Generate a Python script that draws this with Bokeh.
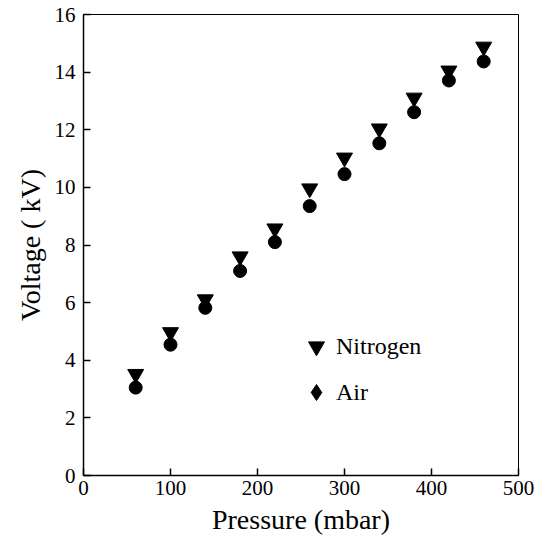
from bokeh.plotting import figure
from bokeh.models import Range1d, FixedTicker, Legend, LegendItem
from bokeh.embed import file_html
from bokeh.resources import INLINE

# Data
pressure = [60, 100, 140, 180, 220, 260, 300, 340, 380, 420, 460]
nitrogen = [3.52, 4.97, 6.11, 7.60, 8.57, 9.96, 11.03, 12.04, 13.11, 14.05, 14.88]
air = [3.05, 4.54, 5.82, 7.10, 8.10, 9.35, 10.46, 11.53, 12.61, 13.71, 14.37]
x_ticks = [0, 100, 200, 300, 400, 500]
y_ticks = [0, 2, 4, 6, 8, 10, 12, 14, 16]

FONT = "Liberation Serif"

p = figure(width=534, height=537,
           x_range=Range1d(0, 500), y_range=Range1d(0, 16),
           output_backend="svg", toolbar_location=None,
           min_border_left=83, min_border_right=16,
           min_border_top=14, min_border_bottom=62,
           x_axis_label="Pressure (mbar)", y_axis_label="Voltage ( kV)")

p.grid.visible = False
p.outline_line_color = "black"
p.outline_line_width = 1
p.background_fill_color = "white"
p.border_fill_color = "white"

p.xaxis.ticker = FixedTicker(ticks=x_ticks)
p.yaxis.ticker = FixedTicker(ticks=y_ticks)

for ax in (p.xaxis, p.yaxis):
    ax.axis_line_color = "black"
    ax.axis_line_width = 1.5
    ax.major_tick_line_color = "black"
    ax.major_tick_line_width = 1.5
    ax.major_tick_in = 7
    ax.major_tick_out = 0
    ax.minor_tick_line_color = None
    ax.major_label_text_font = FONT
    ax.major_label_text_font_size = "21px"
    ax.major_label_text_color = "black"
    ax.axis_label_text_font = FONT
    ax.axis_label_text_font_size = "28px"
    ax.axis_label_text_font_style = "normal"
    ax.axis_label_text_color = "black"

p.xaxis.major_label_standoff = 5
p.xaxis.axis_label_standoff = 6
p.yaxis.major_label_standoff = 8
p.yaxis.axis_label_standoff = 6

# Diamond drawn under the air circles (hidden), used for the legend glyph
a_leg = p.scatter(pressure, air, marker="diamond", size=11,
                  fill_color="black", line_color="black")
n_r = p.scatter(pressure, nitrogen, marker="inverted_triangle", size=16,
                fill_color="black", line_color="black")
a_r = p.scatter(pressure, air, marker="circle", size=13,
                fill_color="black", line_color="black")

legend = Legend(items=[LegendItem(label="Nitrogen", renderers=[n_r]),
                       LegendItem(label="Air", renderers=[a_leg])],
                location=(213, 63), glyph_width=40, glyph_height=40,
                spacing=6, padding=0, margin=0, label_standoff=-7,
                border_line_alpha=0, background_fill_alpha=0,
                label_text_font=FONT, label_text_font_size="24px",
                label_text_color="black")
p.add_layout(legend)

open("out.html", "w").write(file_html(p, INLINE))
